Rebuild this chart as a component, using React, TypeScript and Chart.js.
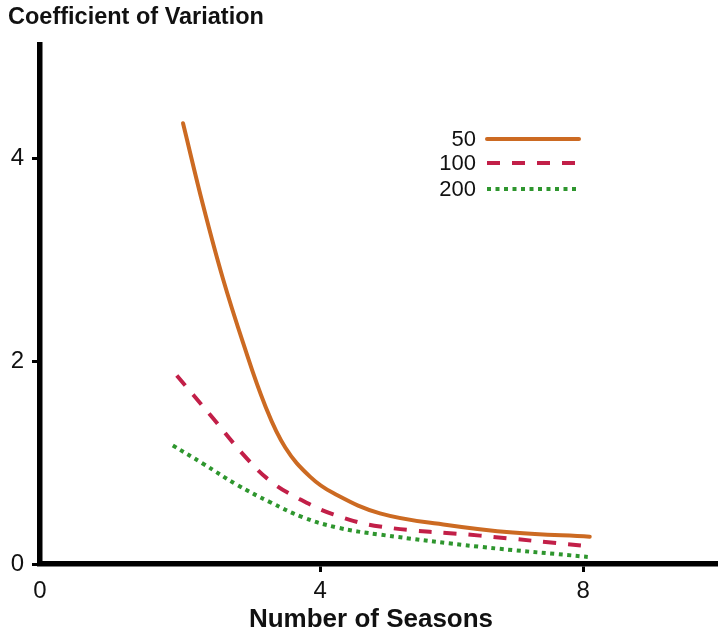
import React, { useEffect, useRef } from "react";
import { Chart, registerables } from "chart.js";

Chart.register(...registerables);

// ---- data ----
const seriesLabels = ["50", "100", "200"];
const seasons50 = [1.915, 2.22, 2.52, 2.83, 3.16, 3.47, 3.85, 4.2, 4.91, 5.93, 6.93, 8.1];
const cv50 = [4.35, 3.54, 2.82, 2.18, 1.57, 1.15, 0.86, 0.7, 0.5, 0.385, 0.31, 0.27];
const seasons100 = [1.82, 2.33, 2.86, 3.24, 3.69, 4.2, 4.91, 6.43, 8.0];
const cv100 = [1.86, 1.47, 1.06, 0.82, 0.64, 0.49, 0.37, 0.28, 0.18];
const seasons200 = [1.76, 2.22, 2.74, 3.24, 3.74, 4.26, 4.91, 6.43, 8.07];
const cv200 = [1.17, 0.99, 0.78, 0.61, 0.46, 0.36, 0.29, 0.17, 0.07];
const xTickValues = [0, 4, 8];
const yTickValues = [0, 2, 4];
const xAxisStart = -0.26;
const xAxisEnd = 10.02;
const yAxisEnd = 5.12;
const xTitle = "Number of Seasons";
const yTitle = "Coefficient of Variation";

const FONT = "'Liberation Sans', Arial, Helvetica, sans-serif";

const overlay = {
  id: "overlay",
  afterDraw(chart: any) {
    const ctx = chart.ctx;
    const rows = [139, 163, 189];
    chart.data.datasets.forEach((ds: any, i: number) => {
      const y = rows[i];
      ctx.save();
      ctx.font = `22px ${FONT}`;
      ctx.fillStyle = "#111";
      ctx.textAlign = "right";
      ctx.textBaseline = "middle";
      ctx.fillText(ds.label, 476, y + 1);
      ctx.strokeStyle = ds.borderColor;
      ctx.lineWidth = ds.borderWidth;
      ctx.setLineDash(ds.borderDash || []);
      ctx.lineCap = ds.borderDash && ds.borderDash.length ? "butt" : "round";
      ctx.beginPath();
      ctx.moveTo(487, y);
      ctx.lineTo(579, y);
      ctx.stroke();
      ctx.restore();
    });
    // x axis title
    ctx.save();
    ctx.font = `bold 26px ${FONT}`;
    ctx.fillStyle = "#111";
    ctx.textAlign = "center";
    ctx.textBaseline = "middle";
    ctx.fillText(xTitle, 371, 620);
    ctx.restore();
  },
};

export default function App() {
  const ref = useRef<HTMLCanvasElement>(null);
  useEffect(() => {
    document.body.style.margin = "0";
    const toPts = (xs: number[], ys: number[]) => xs.map((x, i) => ({ x, y: ys[i] }));
    const chart = new Chart(ref.current!, {
      type: "line",
      data: {
        datasets: [
          {
            label: seriesLabels[0],
            data: toPts(seasons50, cv50),
            borderColor: "#CC6A22",
            borderWidth: 4,
            borderDash: [],
            borderCapStyle: "round",
            pointRadius: 0,
            tension: 0.4,
          },
          {
            label: seriesLabels[1],
            data: toPts(seasons100, cv100),
            borderColor: "#C21F48",
            borderWidth: 4,
            borderDash: [13, 12],
            pointRadius: 0,
            tension: 0.4,
          },
          {
            label: seriesLabels[2],
            data: toPts(seasons200, cv200),
            borderColor: "#2E962E",
            borderWidth: 4,
            borderDash: [4, 4.5],
            pointRadius: 0,
            tension: 0.4,
          },
        ],
      },
      options: {
        animation: false,
        responsive: false,
        devicePixelRatio: 1,
        layout: { padding: { left: 8, right: 4, top: 0, bottom: 0 } },
        plugins: {
          legend: { display: false },
          tooltip: { enabled: false },
          title: {
            display: true,
            text: yTitle,
            align: "start",
            color: "#111",
            font: { family: FONT, size: 23.5, weight: "bold" },
            padding: { top: 3, bottom: 14 },
          },
        },
        scales: {
          x: {
            type: "linear",
            min: xAxisStart,
            max: xAxisEnd,
            afterBuildTicks(scale: any) {
              scale.ticks = xTickValues.map((v) => ({ value: v === 0 ? xAxisStart : v }));
            },
            afterFit(scale: any) {
              scale.height = 77;
            },
            ticks: {
              color: "#111",
              font: { family: FONT, size: 24 },
              padding: 5,
              maxRotation: 0,
              callback: (v: any) => (v < 0 ? "0" : String(v)),
            },
            grid: {
              drawOnChartArea: false,
              drawTicks: true,
              tickLength: 8,
              lineWidth: 3,
              color: (c: any) => (c.tick && c.tick.value < 0 ? "rgba(0,0,0,0)" : "#000"),
            },
            border: { display: true, color: "#000", width: 5.5 },
          },
          y: {
            type: "linear",
            min: 0,
            max: yAxisEnd,
            afterBuildTicks(scale: any) {
              scale.ticks = yTickValues.map((v) => ({ value: v }));
            },
            afterFit(scale: any) {
              scale.width = 32;
            },
            ticks: {
              color: "#111",
              font: { family: FONT, size: 24 },
              padding: 8,
              callback: (v: any) => String(v),
            },
            grid: {
              drawOnChartArea: false,
              drawTicks: true,
              tickLength: 8,
              lineWidth: 3,
              color: "#000",
            },
            border: { display: true, color: "#000", width: 5.5 },
          },
        },
      },
      plugins: [overlay],
    } as any);
    return () => chart.destroy();
  }, []);
  return <canvas ref={ref} width={720} height={641} style={{ display: "block" }} />;
}
